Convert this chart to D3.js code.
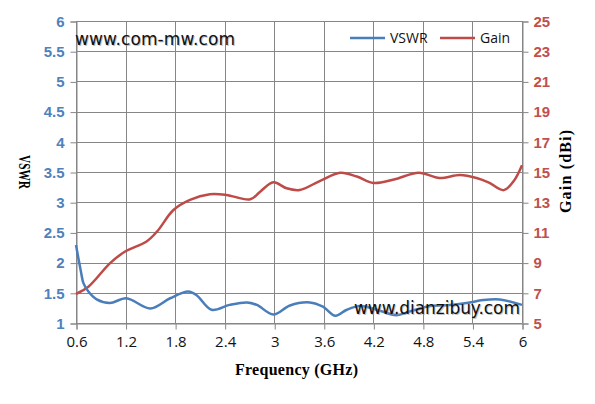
<!DOCTYPE html>
<html><head><meta charset="utf-8">
<script src="https://cdn.jsdelivr.net/npm/d3@7"></script>
<style>body{margin:0;background:#fff}svg{display:block}</style>
</head><body>
<svg id="c" width="595" height="404"></svg>
<script>
const vswrFreq = [0.60,0.66,0.69,0.75,0.85,1.01,1.21,1.50,1.74,1.96,2.06,2.24,2.46,2.67,2.79,2.99,3.19,3.43,3.59,3.74,3.88,4.04,4.24,4.48,4.64,4.89,5.13,5.33,5.53,5.73,6.00];
const vswrVals = [2.29,1.85,1.66,1.52,1.39,1.33,1.41,1.24,1.41,1.52,1.46,1.22,1.30,1.34,1.30,1.14,1.29,1.34,1.27,1.12,1.22,1.28,1.22,1.13,1.19,1.28,1.30,1.33,1.38,1.39,1.30];
const gainFreq = [0.60,0.75,1.01,1.19,1.45,1.58,1.78,1.98,2.22,2.42,2.71,2.83,2.99,3.15,3.31,3.55,3.80,4.00,4.20,4.45,4.75,5.00,5.25,5.45,5.60,5.78,5.90,6.00];
const gainVals = [6.92,7.40,8.95,9.72,10.38,11.05,12.48,13.15,13.52,13.48,13.19,13.70,14.32,13.92,13.81,14.40,14.95,14.70,14.27,14.50,14.95,14.60,14.80,14.60,14.30,13.80,14.40,15.45];
const xTicks = [0.6,1.2,1.8,2.4,3,3.6,4.2,4.8,5.4,6];
const yLeftTicks = [1,1.5,2,2.5,3,3.5,4,4.5,5,5.5,6];
const yRightTicks = [5,7,9,11,13,15,17,19,21,23,25];
const seriesNames = ["VSWR","Gain"];

const svg = d3.select("#c");
const L=76,R=522,T=21,B=323;
const x = d3.scaleLinear().domain([0.6,6]).range([L,R]);
const yl = d3.scaleLinear().domain([1,6]).range([B,T]);
const yr = d3.scaleLinear().domain([5,25]).range([B,T]);
const grid="#868686", blue="#4A7EBB", red="#BE4B48";

// gridlines
const g = svg.append("g");
g.selectAll(".hg").data(yLeftTicks).join("line")
  .attr("x1",L).attr("x2",R).attr("y1",d=>Math.round(yl(d))+0.5).attr("y2",d=>Math.round(yl(d))+0.5)
  .attr("stroke",grid).attr("stroke-width",1);
g.selectAll(".vg").data(xTicks).join("line")
  .attr("y1",T).attr("y2",B).attr("x1",d=>Math.round(x(d))+0.5).attr("x2",d=>Math.round(x(d))+0.5)
  .attr("stroke",grid).attr("stroke-width",1);

// axes
const ax = d3.axisBottom(x).tickValues(xTicks).tickSize(6).tickFormat(d=>String(d));
const axG = svg.append("g").attr("transform",`translate(0.5,${B+0.5})`).call(ax);
axG.select(".domain").attr("stroke",grid);
axG.selectAll(".tick line").attr("stroke",grid);
axG.selectAll("text").attr("font-family","Open Sans, Liberation Sans, sans-serif").attr("font-size",15).attr("fill","#111").attr("dy","0.95em");

const al = d3.axisLeft(yl).tickValues(yLeftTicks).tickSize(6).tickFormat(d=>String(d));
const alG = svg.append("g").attr("transform",`translate(${L+0.5},0.5)`).call(al);
alG.select(".domain").attr("stroke",grid);
alG.selectAll(".tick line").attr("stroke",grid);
alG.selectAll("text").attr("font-family","Liberation Sans, sans-serif").attr("font-weight","bold").attr("font-size",15).attr("fill","#4F81BD").attr("x",-12);

const ar = d3.axisRight(yr).tickValues(yRightTicks).tickSize(6).tickFormat(d=>String(d));
const arG = svg.append("g").attr("transform",`translate(${R+0.5},0.5)`).call(ar);
arG.select(".domain").attr("stroke",grid);
arG.selectAll(".tick line").attr("stroke",grid);
arG.selectAll("text").attr("font-family","Liberation Sans, sans-serif").attr("font-weight","bold").attr("font-size",15).attr("fill","#C0504D").attr("x",11);

// curves
const line = d3.line().curve(d3.curveCatmullRom.alpha(0.5));
svg.append("path").attr("d",line(gainFreq.map((f,i)=>[x(f),yr(gainVals[i])])))
  .attr("fill","none").attr("stroke",red).attr("stroke-width",2.5);
svg.append("path").attr("d",line(vswrFreq.map((f,i)=>[x(f),yl(vswrVals[i])])))
  .attr("fill","none").attr("stroke",blue).attr("stroke-width",2.5);

// axis titles
const serif="Liberation Serif, DejaVu Serif, serif";
svg.append("text").attr("x",235).attr("y",375)
  .attr("font-family",serif).attr("font-size",16).attr("font-weight","bold").attr("fill","#000")
  .attr("textLength",123).attr("lengthAdjust","spacing").text("Frequency (GHz)");
svg.append("text").attr("transform","translate(19,155) rotate(90)")
  .attr("font-family",serif).attr("font-size",16).attr("font-weight","bold").attr("fill","#000")
  .attr("textLength",34).attr("lengthAdjust","spacingAndGlyphs").text("VSWR");
svg.append("text").attr("transform","translate(571,213) rotate(-90)")
  .attr("font-family",serif).attr("font-size",16).attr("font-weight","bold").attr("fill","#000")
  .attr("textLength",83).attr("lengthAdjust","spacing").text("Gain (dBi)");

// legend
const leg = svg.append("g");
const legItems = [{n:seriesNames[0],c:blue,x:350},{n:seriesNames[1],c:red,x:440}];
legItems.forEach(it=>{
  leg.append("line").attr("x1",it.x).attr("x2",it.x+35).attr("y1",38).attr("y2",38).attr("stroke",it.c).attr("stroke-width",2.5);
  leg.append("text").attr("x",it.x+40).attr("y",43).attr("font-family","Open Sans, Liberation Sans, sans-serif").attr("font-size",14).attr("fill","#111").text(it.n);
});

// watermarks
function wm(t,xx,yy,w){
  svg.append("text").attr("x",xx+1).attr("y",yy+1).attr("font-family","DejaVu Sans, Verdana, sans-serif").attr("font-size",17).attr("fill","#999").attr("opacity",0.6).attr("textLength",w).text(t);
  svg.append("text").attr("x",xx).attr("y",yy).attr("font-family","DejaVu Sans, Verdana, sans-serif").attr("font-size",17).attr("fill","#111").attr("textLength",w).text(t);
}
wm("www.com-mw.com",75,45,160);
wm("www.dianzibuy.com",354,314,166);
</script>
</body></html>
